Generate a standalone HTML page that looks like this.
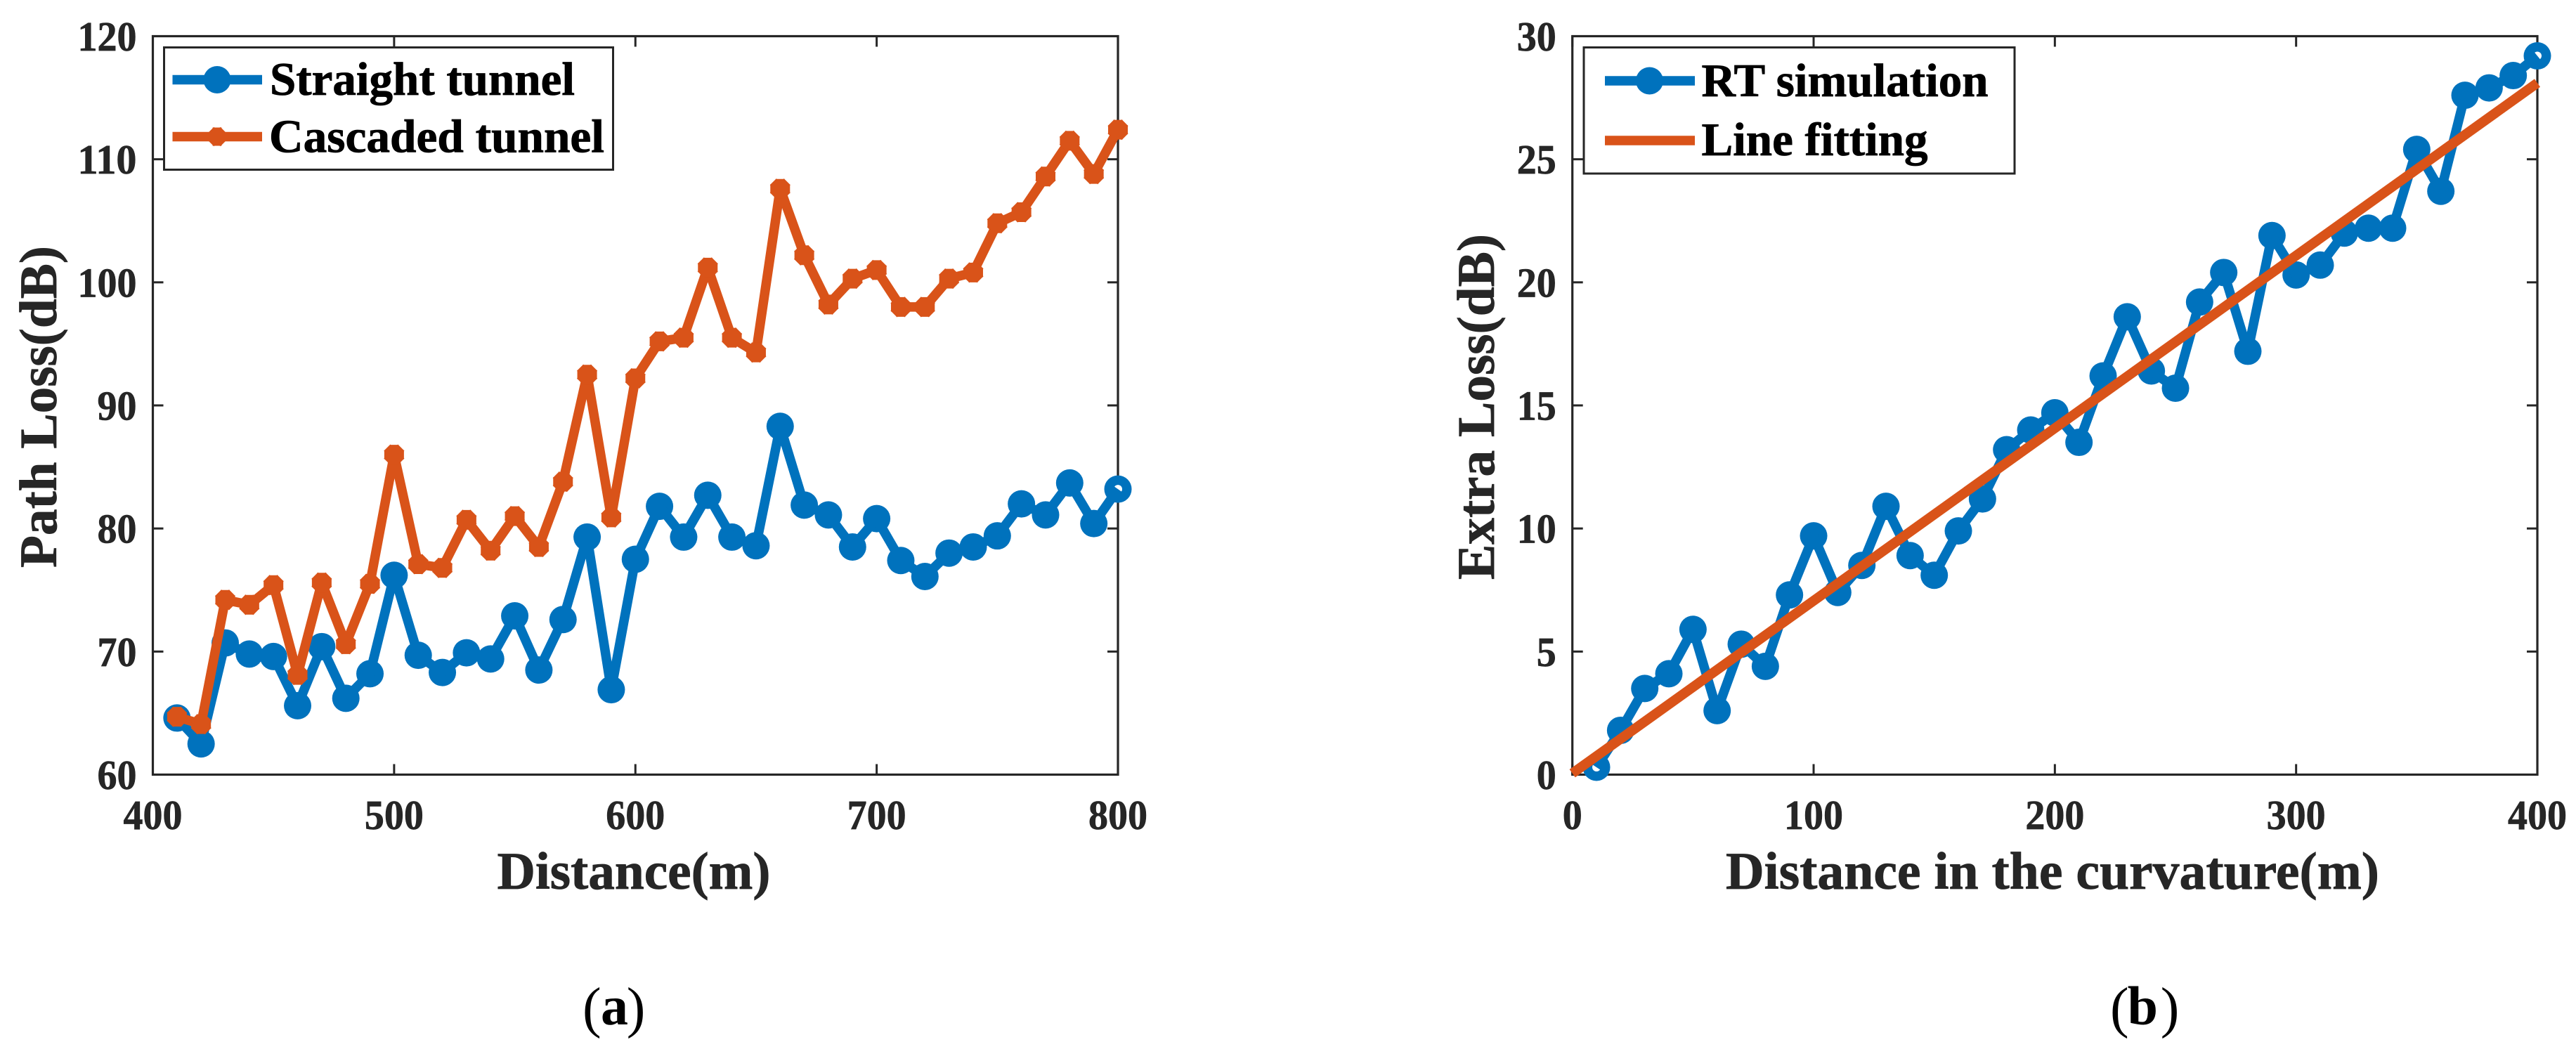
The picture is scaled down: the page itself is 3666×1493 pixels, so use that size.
<!DOCTYPE html>
<html lang="en">
<head>
<meta charset="utf-8">
<title>Path loss and extra loss charts</title>
<style>
html,body{margin:0;padding:0;background:#fff;}
svg{display:block;}
text{font-family:"Liberation Serif",serif;font-weight:bold;}
.axis-text{fill:#262626;stroke:#262626;stroke-width:0.7px;}
.legend-text{fill:#000;stroke:#000;stroke-width:0.8px;font-size:67px;}
.title-text{fill:#262626;stroke:#262626;stroke-width:0.8px;font-size:75px;}
.caption-paren{fill:#000;font-weight:normal;font-size:80px;}
.caption-letter{fill:#000;font-weight:bold;font-size:78px;}
</style>
</head>
<body>
<svg id="figure" xmlns="http://www.w3.org/2000/svg" width="3666" height="1493" viewBox="0 0 3666 1493">
  <rect x="0" y="0" width="3666" height="1493" fill="#fff"/>
  <g id="panel-a"></g>
  <g id="panel-b"></g>

  <text class="title-text" x="902" y="1265" text-anchor="middle" textLength="389" lengthAdjust="spacingAndGlyphs">Distance(m)</text>
  <text class="title-text" transform="translate(80,579) rotate(-90)" text-anchor="middle" textLength="458" lengthAdjust="spacingAndGlyphs">Path Loss(dB)</text>
  <text class="title-text" x="2921" y="1265" text-anchor="middle" textLength="930" lengthAdjust="spacingAndGlyphs">Distance in the curvature(m)</text>
  <text class="title-text" transform="translate(2126,579) rotate(-90)" text-anchor="middle" textLength="492" lengthAdjust="spacingAndGlyphs">Extra Loss(dB)</text>

  <text><tspan class="caption-paren" x="829" y="1461">(</tspan><tspan class="caption-letter" x="855" y="1458">a</tspan><tspan class="caption-paren" x="891.7" y="1461">)</tspan></text>
  <text><tspan class="caption-paren" x="3003" y="1461">(</tspan><tspan class="caption-letter" x="3027.6" y="1458">b</tspan><tspan class="caption-paren" x="3074.7" y="1461">)</tspan></text>

  <g id="legend-a">
    <rect x="233.5" y="67.5" width="639" height="174" fill="#fff" stroke="#262626" stroke-width="3"/>
    <line x1="245.5" x2="373" y1="113.5" y2="113.5" stroke="#0072BD" stroke-width="13.5"/>
    <circle cx="309" cy="113.5" r="19.5" fill="#0072BD"/>
    <text class="legend-text" x="384" y="135" textLength="434" lengthAdjust="spacingAndGlyphs">Straight tunnel</text>
    <line x1="245.5" x2="373" y1="194.5" y2="194.5" stroke="#D95319" stroke-width="13.5"/>
    <path d="M296 194.5H322M309 181.5V207.5M299.8 185.3L318.2 203.7M299.8 203.7L318.2 185.3" stroke="#D95319" stroke-width="13" fill="none"/>
    <text class="legend-text" x="383" y="216.5" textLength="477" lengthAdjust="spacingAndGlyphs">Cascaded tunnel</text>
  </g>

  <g id="legend-b">
    <rect x="2254" y="67.5" width="613" height="179.5" fill="#fff" stroke="#262626" stroke-width="3"/>
    <line x1="2284" x2="2412" y1="115" y2="115" stroke="#0072BD" stroke-width="13.5"/>
    <circle cx="2347.5" cy="115" r="19.5" fill="#0072BD"/>
    <text class="legend-text" x="2421.5" y="137" textLength="408" lengthAdjust="spacingAndGlyphs">RT simulation</text>
    <line x1="2284" x2="2412" y1="200" y2="200" stroke="#D95319" stroke-width="13.5"/>
    <text class="legend-text" x="2421.5" y="221">Line fitting</text>
  </g>
</svg>

<script>
// ---- Panel (a) data ----
const distanceA = [410,420,430,440,450,460,470,480,490,500,510,520,530,540,550,560,570,580,590,600,610,620,630,640,650,660,670,680,690,700,710,720,730,740,750,760,770,780,790,800];
const straightTunnel = [64.6,62.5,70.7,69.8,69.6,65.6,70.4,66.2,68.2,76.2,69.7,68.3,69.9,69.4,72.9,68.5,72.6,79.3,66.9,77.5,81.8,79.3,82.7,79.3,78.6,88.3,81.9,81.1,78.5,80.8,77.4,76.1,78.0,78.5,79.4,82.0,81.1,83.7,80.4,83.2];
const cascadedTunnel = [64.7,64.1,74.2,73.8,75.4,68.1,75.6,70.6,75.5,86.0,77.1,76.8,80.7,78.2,81.0,78.5,83.8,92.5,80.9,92.2,95.2,95.5,101.2,95.5,94.3,107.6,102.2,98.2,100.3,101.0,98.0,98.0,100.3,100.8,104.8,105.7,108.6,111.5,108.8,112.4];
const xTicksA = [400,500,600,700,800];
const yTicksA = [60,70,80,90,100,110,120];

// ---- Panel (b) data ----
const distanceB = [10,20,30,40,50,60,70,80,90,100,110,120,130,140,150,160,170,180,190,200,210,220,230,240,250,260,270,280,290,300,310,320,330,340,350,360,370,380,390,400];
const rtSimulation = [0.3,1.8,3.5,4.1,5.9,2.6,5.3,4.4,7.3,9.7,7.4,8.5,10.9,8.9,8.1,9.9,11.2,13.2,14.0,14.7,13.5,16.2,18.6,16.4,15.7,19.2,20.4,17.2,21.9,20.3,20.7,22.0,22.2,22.2,25.4,23.7,27.6,27.9,28.4,29.2];
const fitX = [0,400];
const fitY = [0.05,28.1];
const xTicksB = [0,100,200,300,400];
const yTicksB = [0,5,10,15,20,25,30];

const NS = 'http://www.w3.org/2000/svg';
const BLUE = '#0072BD';
const ORANGE = '#D95319';
const INK = '#262626';

function make(parent, tag, attrs) {
  const el = document.createElementNS(NS, tag);
  for (const k in attrs) el.setAttribute(k, attrs[k]);
  parent.appendChild(el);
  return el;
}

function makeScale(d0, d1, r0, r1) {
  return function (v) { return r0 + (v - d0) * (r1 - r0) / (d1 - d0); };
}

function drawAxes(g, box, xs, ys, xTicks, yTicks, prefix) {
  const frame = make(g, 'rect', {x: box.left, y: box.top, width: box.right - box.left, height: box.bottom - box.top, fill: 'none', stroke: INK, 'stroke-width': 3.2});
  
  
  const tickLen = 15;
  xTicks.forEach(function (t) {
    const x = xs(t);
    const bottomTick = make(g, 'line', {x1: x, x2: x, y1: box.bottom, y2: box.bottom - tickLen, stroke: INK, 'stroke-width': 3});
    
    
    const topTick = make(g, 'line', {x1: x, x2: x, y1: box.top, y2: box.top + tickLen, stroke: INK, 'stroke-width': 3});
    
    
    const label = make(g, 'text', {x: x, y: 1180, 'text-anchor': 'middle', 'font-size': 59, 'class': 'axis-text', textLength: String(t).length * 28, lengthAdjust: 'spacingAndGlyphs'});
    
    
    label.textContent = t;
  });
  yTicks.forEach(function (t) {
    const y = ys(t);
    const leftTick = make(g, 'line', {x1: box.left, x2: box.left + tickLen, y1: y, y2: y, stroke: INK, 'stroke-width': 3});
    
    
    const rightTick = make(g, 'line', {x1: box.right, x2: box.right - tickLen, y1: y, y2: y, stroke: INK, 'stroke-width': 3});
    
    
    const n = String(t).length;
    const w = n * 28;
    const label = make(g, 'text', {x: box.left - 23 - w, y: y + 20.5, 'font-size': 59, 'class': 'axis-text', textLength: w, lengthAdjust: 'spacingAndGlyphs'});
    
    
    label.textContent = t;
  });
}

function pointsOf(xv, yv, xs, ys) {
  return xv.map(function (x, i) { return xs(x).toFixed(1) + ',' + ys(yv[i]).toFixed(1); }).join(' ');
}

function drawCircleSeries(g, xv, yv, xs, ys, color, name, holeIndex) {
  const group = make(g, 'g', {});
  
  
  xv.forEach(function (x, i) {
    const dot = make(group, 'circle', {cx: xs(x), cy: ys(yv[i]), r: 19.5, fill: color});
    
    
    if (i === holeIndex || i === xv.length - 1) {
      const hole = make(group, 'circle', {cx: xs(x), cy: ys(yv[i]), r: 6, fill: '#fff'});
      
      
    }
  });
  const line = make(group, 'polyline', {points: pointsOf(xv, yv, xs, ys), fill: 'none', stroke: color, 'stroke-width': 13.5, 'stroke-linejoin': 'round'});
  
  
}

function drawStarSeries(g, xv, yv, xs, ys, color, name) {
  const group = make(g, 'g', {});
  
  
  const line = make(group, 'polyline', {points: pointsOf(xv, yv, xs, ys), fill: 'none', stroke: color, 'stroke-width': 13.5, 'stroke-linejoin': 'round'});
  
  
  xv.forEach(function (x, i) {
    const cx = xs(x), cy = ys(yv[i]);
    const a = 14, b = 10;
    const d = 'M' + (cx - a) + ' ' + cy + 'H' + (cx + a) +
              'M' + cx + ' ' + (cy - a) + 'V' + (cy + a) +
              'M' + (cx - b) + ' ' + (cy - b) + 'L' + (cx + b) + ' ' + (cy + b) +
              'M' + (cx - b) + ' ' + (cy + b) + 'L' + (cx + b) + ' ' + (cy - b);
    const star = make(group, 'path', {d: d, fill: 'none', stroke: color, 'stroke-width': 13});
    
    
  });
}

// Panel (a)
(function () {
  const g = document.getElementById('panel-a');
  const box = {left: 217.5, right: 1591, top: 51.5, bottom: 1102.5};
  const xs = makeScale(400, 800, box.left, box.right);
  const ys = makeScale(60, 120, box.bottom, box.top);
  drawAxes(g, box, xs, ys, xTicksA, yTicksA, 'panel-a');
  drawCircleSeries(g, distanceA, straightTunnel, xs, ys, BLUE, 'straight-tunnel', -1);
  drawStarSeries(g, distanceA, cascadedTunnel, xs, ys, ORANGE, 'cascaded-tunnel');
})();

// Panel (b)
(function () {
  const g = document.getElementById('panel-b');
  const box = {left: 2237.7, right: 3611, top: 51.5, bottom: 1102.5};
  const xs = makeScale(0, 400, box.left, box.right);
  const ys = makeScale(0, 30, box.bottom, box.top);
  drawAxes(g, box, xs, ys, xTicksB, yTicksB, 'panel-b');
  drawCircleSeries(g, distanceB, rtSimulation, xs, ys, BLUE, 'rt-simulation', 0);
  const fit = make(g, 'polyline', {points: pointsOf(fitX, fitY, xs, ys), fill: 'none', stroke: ORANGE, 'stroke-width': 14});
  
  
})();
</script>
</body>
</html>
